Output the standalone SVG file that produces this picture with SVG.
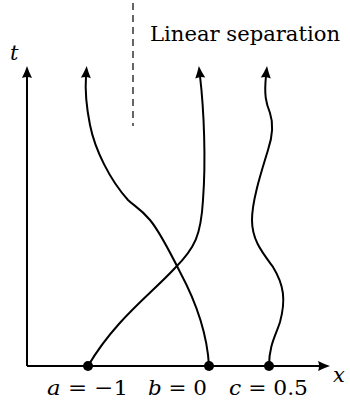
<svg xmlns="http://www.w3.org/2000/svg" width="350" height="403" viewBox="0 0 350 403">
<style>
.ln{fill:none;stroke:#000;stroke-width:2}
.tx{font-family:'DejaVu Serif',serif;font-size:21px;fill:#000}
.lb{font-size:21px}
.it{font-style:italic}
</style>
<defs>
<marker id="ah" markerUnits="userSpaceOnUse" viewBox="-1 -6 14 12" refX="2" refY="0" markerWidth="14" markerHeight="12" orient="auto">
<path d="M0,-5 Q6,-2 12,0 Q6,2 0,5 Q2,0 0,-5 z" fill="#000"/>
</marker>
</defs>
<rect width="350" height="403" fill="#fff"/>
<g id="axes">
<path class="ln" d="M27,366 L27,76" marker-end="url(#ah)"/>
<path class="ln" d="M27,366 L320,366" marker-end="url(#ah)"/>
<text class="tx it lb" x="10" y="60">t</text>
<text class="tx it lb" x="333" y="382">x</text>
</g>
<g id="separator">
<path d="M133,3 L133,126" fill="none" stroke="#000" stroke-width="1.2" stroke-dasharray="7,5"/>
<text class="tx" x="150" y="41" textLength="190" lengthAdjust="spacingAndGlyphs">Linear separation</text>
</g>
<g id="connectors">
<path class="ln" d="M88,366 C115,320 150,295 175,268 C195,248 201,235 203,200 C206,160 204,110 200,76" marker-end="url(#ah)"/>
<path class="ln" d="M209,366 C207,330 195,300 180,272 C170,252 160,232 150,220 C140,208 134,206 128,200 C110,180 95,150 90,125 C86,105 85,90 86,76" marker-end="url(#ah)"/>
<path class="ln" d="M269,366 C269,345 276,335 280,322 C286,300 284,285 273,267 C262,252 252,240 252,220 C252,200 262,170 268,150 C273,135 273,122 270,113 C266,103 264,95 266,76" marker-end="url(#ah)"/>
</g>
<g id="node-a">
<circle cx="88" cy="366" r="5"/>
<text class="tx lb" x="47" y="395" textLength="81" lengthAdjust="spacingAndGlyphs"><tspan class="it">a</tspan> = −1</text>
</g>
<g id="node-b">
<circle cx="209" cy="366" r="5"/>
<text class="tx lb" x="148" y="395" textLength="59" lengthAdjust="spacingAndGlyphs"><tspan class="it">b</tspan> = 0</text>
</g>
<g id="node-c">
<circle cx="269" cy="366" r="5"/>
<text class="tx lb" x="229" y="395" textLength="79" lengthAdjust="spacingAndGlyphs"><tspan class="it">c</tspan> = 0.5</text>
</g>
</svg>
